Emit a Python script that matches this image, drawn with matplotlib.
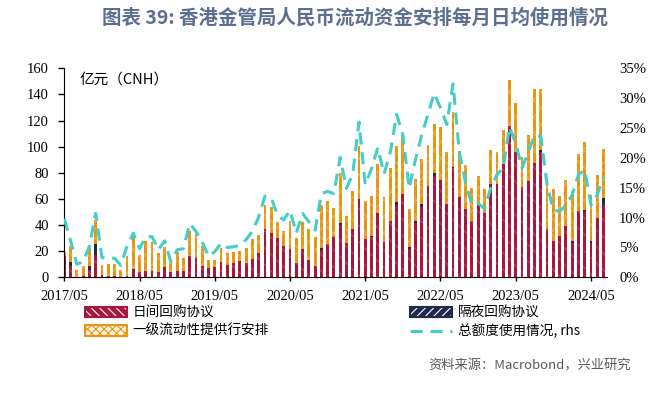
import matplotlib
matplotlib.use('Agg')

import numpy as np
import matplotlib.pyplot as plt
from matplotlib.patches import Patch
from matplotlib.lines import Line2D
from matplotlib.legend_handler import HandlerTuple
from matplotlib.ticker import FuncFormatter

plt.rcParams['font.family'] = ['Noto Sans CJK SC', 'DejaVu Sans']
plt.rcParams['hatch.linewidth'] = 0.8

##########
# monthly averages, 2017/05 .. 2024/07, 亿元
red = [16, 8.4, 0.5, 1, 5.8, 17.2, 1.5, 1, 1, 0.5, 1, 6.5,
       4.3, 5.1, 4.7, 3.8, 7.9, 3.8, 5.1, 4.5, 16, 15, 8.6, 6.9,
       7.7, 12, 9.1, 11.2, 12.8, 10.7, 14, 18.4, 37.3, 34.2, 30.1, 24.2,
       21.9, 10.7, 21.4, 13.3, 8.7, 20.9, 25.5, 31.1, 40.1, 26.5, 36.8, 59.7,
       29.4, 31.1, 49, 27.3, 43.1, 55.4, 63.8, 21.4, 41.3, 53.6, 69.9, 77.8,
       74.2, 56, 84, 61.8, 52, 43.2, 57, 49, 71.3, 71.6, 86.8, 115.6,
       95.6, 69, 74, 87.6, 95.7, 37, 28, 31.6, 39.3, 26, 50.8, 50.3,
       26, 45.2, 55.4]
navy = [0, 3, 0, 0, 2.5, 8.4, 0, 0, 0, 0, 0, 0,
        0, 0, 0, 0, 0, 0, 0, 0, 0, 0, 0, 0,
        0, 0, 0, 0, 0, 0, 0, 0, 0, 0, 0, 0,
        0, 0, 0, 0, 0, 1.3, 0, 0, 1.8, 0, 0, 0,
        0, 0.5, 0, 0, 0, 2.6, 0, 2.1, 1.8, 2.4, 0, 1.8,
        0.5, 0, 0.5, 0, 0, 0, 0, 0, 0, 0, 0, 0,
        0, 0, 0, 0, 1.8, 0, 0, 0, 0, 1.8, 0, 1.3,
        1.8, 0, 5.1]
orange = [3, 12.2, 5.3, 7.5, 14.5, 18.1, 7.8, 9.4, 9.2, 5.3, 15.5, 24.7,
          13, 22.8, 22.7, 14.7, 15.6, 7, 14.5, 9.9, 19.2, 18.1, 15.7, 6.7,
          5.8, 10.6, 9.8, 7.9, 7.6, 11.8, 15.1, 14, 17.9, 19.4, 12.5, 11.5,
          21.5, 19.2, 20.7, 23.5, 21.9, 33.2, 33.2, 21.7, 38.2, 20.5, 29.3, 41.1,
          29.3, 30.7, 37.5, 34, 40.4, 42.8, 45.2, 28.6, 32.2, 34.6, 31.4, 37.8,
          40.2, 40, 42.4, 35.2, 34, 25.3, 20.8, 18.5, 26.2, 24.1, 25.7, 35.4,
          37.6, 23, 35, 56.9, 46.7, 35, 39.4, 30.9, 35.2, 38.3, 43.4, 51.8,
          35.2, 33.2, 37.5]
# 总额度使用情况 (%)
usage = [9.8, 6.1, 2.2, 2.6, 5.2, 10.7, 3.3, 3.2, 3.2, 2.0, 5.2, 7.4,
         4.8, 6.8, 6.8, 4.6, 6.1, 2.6, 4.6, 4.8, 9.0, 7.7, 5.9, 3.5,
         4.3, 5.7, 5.0, 5.1, 5.4, 6.3, 7.7, 10.1, 13.6, 13.3, 10.4, 9.6,
         11.2, 7.4, 10.7, 9.3, 7.9, 14.0, 14.4, 14.0, 20.1, 14.9, 17.3, 26.0,
         15.5, 18.2, 21.7, 17.3, 21.0, 27.3, 23.8, 14.9, 19.7, 23.8, 27.3, 30.8,
         28.4, 25.6, 32.4, 21.0, 15.8, 12.1, 12.4, 11.5, 14.9, 17.2, 18.3, 25.2,
         22.4, 18.3, 21.0, 23.8, 23.6, 15.5, 11.3, 11.0, 12.1, 13.8, 17.2, 18.0,
         12.1, 13.8, 16.8]
tick_labels = ['2017/05', '2018/05', '2019/05', '2020/05',
               '2021/05', '2022/05', '2023/05', '2024/05']

##########
c_red = '#a8173b'
c_navy = '#1e2b4a'
c_orange = '#e8960f'
c_line = '#45cdc8'
serif = 'Liberation Serif'

months = np.arange(len(red))
red = np.array(red)
navy = np.array(navy)
orange = np.array(orange)

fig = plt.figure(figsize=(6.63, 3.93), dpi=100)
ax1 = fig.add_axes([0.097, 0.2944, 0.818, 0.5318])

bw = 0.45
ax1.bar(months, red, width=bw, color=c_red, edgecolor='#c4405f', linewidth=0, hatch='\\\\')
ax1.bar(months, navy, width=bw, bottom=red, color=c_navy, linewidth=0)
ax1.bar(months, orange, width=bw, bottom=red + navy, color=c_orange, edgecolor='#efb04a', linewidth=0, hatch='xx')

ax1.set_xlim(0, 86.5)
ax1.set_ylim(0, 160)
ax1.set_yticks(range(0, 161, 20))
ax1.set_xticks(range(0, 85, 12))
ax1.set_xticklabels(tick_labels)
ax1.tick_params(axis='y', direction='out', length=4, width=1, pad=7, labelsize=10.5, labelfontfamily=serif)
ax1.tick_params(axis='x', direction='out', length=3, width=1, pad=6, labelsize=10.5, labelfontfamily=serif)
ax1.spines['top'].set_visible(False)
ax1.spines['right'].set_visible(False)
ax1.text(0.028, 0.945, '亿元（CNH）', transform=ax1.transAxes, fontsize=10.5,
         va='center', ha='left', family=['Noto Sans CJK SC', serif])

ax2 = ax1.twinx()
ax2.plot(months, usage, color=c_line, linewidth=2.2, dashes=(4, 2.5))
ax2.set_ylim(0, 35)
ax2.set_yticks(range(0, 36, 5))
ax2.yaxis.set_major_formatter(FuncFormatter(lambda v, p: '%d%%' % v))
ax2.tick_params(axis='y', length=0, pad=9, labelsize=10.5, labelfontfamily=serif)
for s in ax2.spines.values():
    s.set_visible(False)

fig.text(0.535, 1 - 18 / 393, '图表 39: 香港金管局人民币流动资金安排每月日均使用情况',
         ha='center', va='center', fontsize=14, fontweight='bold', color='#5b6f8e')

##########
# legend in two columns, hatched patch with a coloured border
def hpatch(fc, hc, ec, hatch):
    return (Patch(facecolor=fc, edgecolor=hc, linewidth=0, hatch=hatch),
            Patch(facecolor='none', edgecolor=ec, linewidth=1.5))

leg_kw = dict(frameon=False, fontsize=9.8, handlelength=3.1, handleheight=0.8,
              handletextpad=0.4, labelspacing=0.3, borderpad=0, borderaxespad=0,
              loc='upper left', handler_map={tuple: HandlerTuple(ndivide=1, pad=0)})
fig.legend([hpatch(c_red, 'white', c_red, '\\\\\\\\'), hpatch('#fdf3e2', c_orange, c_orange, 'xxxx')],
           ['日间回购协议', '一级流动性提供行安排'], bbox_to_anchor=(85 / 663, 1 - 306 / 393), **leg_kw)
fig.legend([hpatch(c_navy, 'white', c_navy, '////'),
            Line2D([0], [0], color=c_line, linewidth=2.2, dashes=(4, 2.5))],
           ['隔夜回购协议', '总额度使用情况, rhs'], bbox_to_anchor=(410 / 663, 1 - 306 / 393), **leg_kw)

fig.text(428 / 663, 1 - 366 / 393, '资料来源：Macrobond，兴业研究', fontsize=9.5,
         color='#595959', va='center', ha='left')

fig.savefig('out.png', dpi=100)
